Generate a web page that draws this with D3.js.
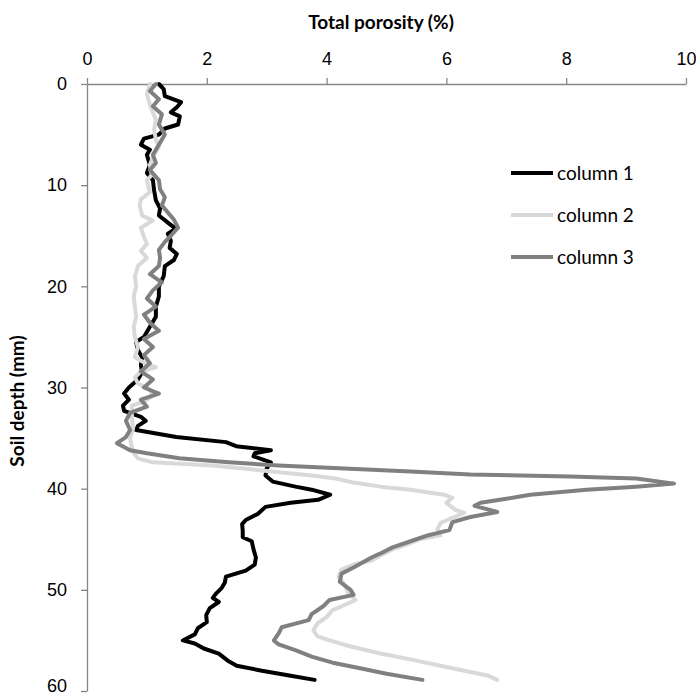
<!DOCTYPE html>
<html>
<head>
<meta charset="utf-8">
<script src="https://cdn.jsdelivr.net/npm/d3@7"></script>
<style>
  body { margin: 0; background: #fff; }
  svg { display: block; font-family: Lato, "Open Sans", sans-serif; }
  .axis path, .axis line { stroke: #868686; stroke-width: 1.3; }
  .axis text { fill: #000; font-size: 18px; }
</style>
</head>
<body>
<div id="chart"></div>
<script>
// series names
const series = ["column 1", "column 2", "column 3"];

// depth (mm) / porosity (%)
const depth1 = [0, 0.5, 1.2, 1.8, 2.3, 2.8, 3.2, 4.0, 4.4, 5.0, 5.4, 6.0, 6.5, 7.0, 8.0, 8.8, 9.5, 10.5, 11.5, 12.3,
  13.0, 13.7, 14.3, 14.8, 15.5, 16.2, 16.8, 17.4, 18.0, 19.0, 20.0, 21.0, 22.0, 23.0, 24.0, 25.0, 25.5, 26.3, 27.0, 27.8,
  28.5, 29.2, 30.0, 30.6, 31.2, 31.8, 32.3, 32.9, 33.3, 33.8, 34.2, 34.9, 35.4, 35.8, 36.2, 36.5, 36.8, 37.4, 38.0, 38.7,
  39.3, 39.8, 40.1, 40.6, 41.1, 41.4, 41.8, 42.5, 43.1, 43.5, 44.2, 44.8, 45.2, 46.0, 46.8, 47.5, 48.1, 48.7, 49.3, 49.8,
  50.4, 50.8, 51.2, 51.8, 52.5, 53.2, 53.8, 54.4, 55.0, 55.3, 55.8, 56.3, 57.0, 57.5, 58.0, 58.5, 58.9];
const poro1 = [1.2, 1.28, 1.3, 1.57, 1.5, 1.4, 1.55, 1.52, 1.3, 1.2, 0.95, 0.9, 1.05, 1.0, 1.05, 1.0, 1.1, 1.12, 1.15, 1.22,
  1.2, 1.35, 1.48, 1.35, 1.4, 1.38, 1.5, 1.45, 1.3, 1.28, 1.2, 1.2, 1.15, 1.15, 1.05, 0.95, 0.82, 0.85, 0.92, 0.9,
  0.92, 0.85, 0.7, 0.62, 0.7, 0.6, 0.62, 0.9, 0.98, 0.85, 0.82, 1.49, 2.32, 2.49, 3.07, 2.8, 2.78, 3.07, 3.0, 2.98,
  3.1, 3.48, 3.75, 4.06, 3.86, 3.4, 2.98, 2.85, 2.65, 2.59, 2.6, 2.6, 2.75, 2.78, 2.82, 2.8, 2.65, 2.32, 2.3, 2.25,
  2.15, 2.1, 2.2, 2.05, 1.99, 2.0, 1.85, 1.8, 1.6, 1.8, 1.95, 2.2, 2.35, 2.5, 2.92, 3.4, 3.8];

const depth2 = [0, 1.0, 2.0, 2.8, 3.5, 4.5, 5.5, 6.2, 7.2, 8.0, 9.0, 9.5, 10.7, 11.4, 12.0, 13.0, 13.5, 14.2, 15.1, 15.8,
  16.5, 17.2, 18.0, 19.0, 20.0, 21.0, 22.0, 23.0, 24.0, 25.0, 26.0, 27.0, 27.7, 28.0, 28.4, 29.0, 29.6, 30.2, 30.8, 31.4,
  31.8, 33.0, 34.0, 35.0, 36.0, 36.5, 37.0, 37.4, 37.7, 38.2, 38.7, 39.0, 39.4, 39.8, 40.1, 40.6, 40.9, 41.4, 42.1, 42.4,
  43.0, 43.4, 44.0, 44.6, 45.0, 45.4, 46.0, 46.6, 47.1, 47.5, 48.0, 48.7, 49.5, 50.2, 51.0, 51.5, 52.0, 52.7, 53.3, 54.0,
  54.6, 55.0, 55.6, 56.3, 57.0, 57.5, 58.0, 58.5, 58.9];
const poro2 = [1.05, 1.0, 1.05, 1.1, 1.15, 1.12, 1.15, 1.2, 1.1, 1.05, 1.08, 1.0, 1.05, 0.9, 0.88, 0.92, 1.1, 0.9, 0.95, 1.0,
  0.9, 1.0, 0.85, 0.8, 0.82, 0.78, 0.8, 0.82, 0.78, 0.8, 0.85, 0.8, 1.0, 1.15, 0.9, 0.8, 0.85, 1.05, 1.1, 0.95,
  0.75, 0.75, 0.77, 0.72, 0.75, 0.78, 0.85, 1.1, 2.1, 2.92, 3.75, 4.15, 4.45, 4.9, 5.4, 5.96, 6.1, 6.0, 6.15, 6.3,
  6.05, 5.9, 5.85, 5.9, 5.55, 5.4, 5.1, 4.9, 4.75, 4.45, 4.25, 4.2, 4.3, 4.35, 4.48, 4.3, 4.1, 4.0, 3.85, 3.78,
  3.85, 4.05, 4.4, 4.9, 5.5, 5.9, 6.3, 6.7, 6.85];

const depth3 = [0, 0.7, 1.5, 2.2, 3.0, 4.0, 5.0, 6.0, 7.0, 7.8, 8.5, 9.5, 10.4, 11.2, 12.0, 12.7, 13.4, 14.2, 15.0, 15.6,
  16.4, 17.2, 18.0, 18.8, 19.6, 20.4, 21.2, 22.0, 22.8, 23.6, 24.4, 25.2, 26.0, 26.8, 27.6, 28.4, 29.2, 30.0, 30.6, 31.2,
  31.9, 32.5, 33.3, 34.2, 34.9, 35.5, 36.2, 36.5, 37.0, 37.4, 37.7, 38.0, 38.3, 38.6, 38.8, 39.0, 39.5, 39.8, 40.1, 40.6,
  41.0, 41.4, 41.7, 42.3, 42.8, 43.3, 44.1, 44.6, 45.1, 45.8, 46.4, 46.8, 47.3, 47.8, 48.4, 49.2, 50.0, 50.5, 51.0, 51.6,
  52.4, 53.0, 53.7, 54.3, 55.0, 55.4, 56.0, 56.6, 57.2, 57.8, 58.3, 58.9];
const poro3 = [1.15, 1.05, 1.2, 1.1, 1.25, 1.2, 1.3, 1.2, 1.1, 1.15, 1.05, 1.2, 1.22, 1.3, 1.25, 1.35, 1.45, 1.52, 1.4, 1.3,
  1.2, 1.22, 1.2, 1.05, 1.25, 1.1, 1.0, 1.15, 0.95, 1.05, 1.2, 0.95, 1.1, 0.95, 1.05, 0.9, 1.1, 0.95, 1.2, 0.9,
  1.0, 0.72, 0.65, 0.72, 0.65, 0.5, 0.72, 1.0, 1.54, 2.37, 3.2, 4.3, 5.4, 6.4, 8.06, 9.17, 9.8, 9.17, 8.34, 7.4,
  7.0, 6.57, 6.47, 6.85, 6.4, 6.1, 6.05, 5.7, 5.45, 5.1, 4.9, 4.75, 4.6, 4.45, 4.25, 4.22, 4.4, 4.45, 4.05, 3.95,
  3.75, 3.7, 3.25, 3.2, 3.12, 3.2, 3.5, 3.75, 4.1, 4.6, 5.0, 5.6];

const xTicks = [0, 2, 4, 6, 8, 10];
const yTicks = [0, 10, 20, 30, 40, 50, 60];

const colors = ["#000000", "#d9d9d9", "#808080"];

const W = 696, H = 697;
const m = { top: 84, left: 87, right: 10, bottom: 6 };

const svg = d3.select("#chart").append("svg")
  .attr("width", W)
  .attr("height", H);

const x = d3.scaleLinear().domain([0, 10]).range([m.left, W - m.right]);
const y = d3.scaleLinear().domain([0, 60]).range([m.top, H - m.bottom]);

const data = [
  depth1.map((d, i) => [poro1[i], d]),
  depth2.map((d, i) => [poro2[i], d]),
  depth3.map((d, i) => [poro3[i], d])
];

// axes
svg.append("g")
  .attr("class", "axis")
  .attr("transform", `translate(0,${m.top})`)
  .call(d3.axisTop(x).tickValues(xTicks).tickSizeInner(6).tickSizeOuter(0).tickPadding(13));

const yAxis = svg.append("g")
  .attr("class", "axis")
  .attr("transform", `translate(${m.left},0)`)
  .call(d3.axisLeft(y).tickValues(yTicks).tickSizeInner(6).tickSizeOuter(0).tickPadding(14));

// last label sits on the bottom edge, lift it so it is not clipped
yAxis.selectAll(".tick text")
  .filter(d => d === 60)
  .attr("dy", "0.05em");

// lines
const line = d3.line().x(d => x(d[0])).y(d => y(d[1]));

svg.append("g").selectAll("path")
  .data(data)
  .enter()
  .append("path")
  .attr("d", line)
  .attr("fill", "none")
  .attr("stroke", (d, i) => colors[i])
  .attr("stroke-width", 4)
  .attr("stroke-linejoin", "round")
  .attr("stroke-linecap", "round");

// titles
svg.append("text")
  .attr("x", 381)
  .attr("y", 29)
  .attr("text-anchor", "middle")
  .attr("font-size", 19)
  .attr("font-weight", "bold")
  .text("Total porosity (%)");

svg.append("text")
  .attr("transform", "translate(24,401) rotate(-90)")
  .attr("text-anchor", "middle")
  .attr("font-size", 19)
  .attr("font-weight", "bold")
  .text("Soil depth (mm)");

// legend
const legend = svg.append("g").selectAll("g")
  .data(series)
  .enter()
  .append("g")
  .attr("transform", (d, i) => `translate(511,${173 + i * 42})`);

legend.append("line")
  .attr("x1", 0).attr("x2", 42)
  .attr("stroke", (d, i) => colors[i])
  .attr("stroke-width", 4);

legend.append("text")
  .attr("x", 46)
  .attr("dy", "0.35em")
  .attr("font-size", 19)
  .text(d => d);
</script>
</body>
</html>
